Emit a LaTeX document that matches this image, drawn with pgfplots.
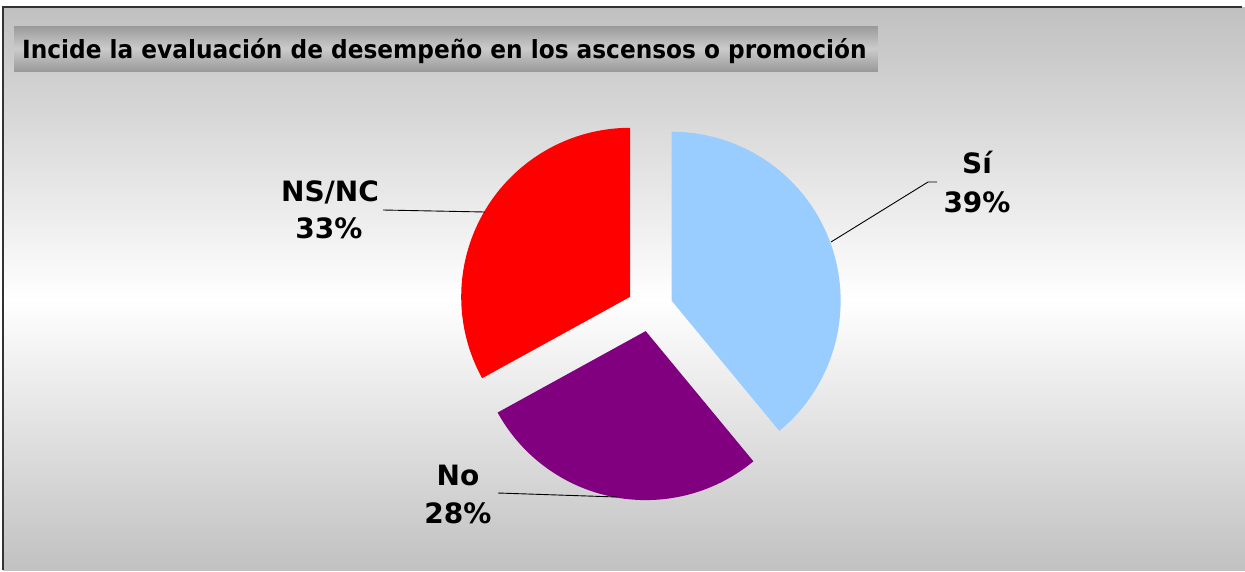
\documentclass[border=0pt]{standalone}
\usepackage{fontspec}
\setmainfont{DejaVu Sans}
\newfontfamily\titlefont{DejaVu Sans}[FakeStretch=0.93]
\usepackage{pgfplots}
\pgfplotsset{compat=1.18}
\definecolor{csi}{HTML}{99CCFF}
\definecolor{cno}{HTML}{800080}
\definecolor{cns}{HTML}{FF0000}
\definecolor{bggray}{HTML}{C0C0C0}
\definecolor{tdark}{HTML}{999999}
\definecolor{tlight}{HTML}{CBCBCB}
% data (percent)
\def\vSi{39}\def\vNo{28}\def\vNS{33}
\def\R{169}\def\D{23}\def\CX{650}\def\CY{308.5}
\pgfmathsetmacro\aA{0}
\pgfmathsetmacro\aB{360*\vSi/100}
\pgfmathsetmacro\aC{\aB+360*\vNo/100}
\pgfmathsetmacro\aD{\aC+360*\vNS/100}
\pgfmathsetmacro\mA{(\aA+\aB)/2}
\pgfmathsetmacro\mB{(\aB+\aC)/2}
\pgfmathsetmacro\mC{(\aC+\aD)/2}
\pgfmathsetmacro\vxA{\CX+\D*sin(\mA)}\pgfmathsetmacro\vyA{\CY-\D*cos(\mA)}
\pgfmathsetmacro\vxB{\CX+\D*sin(\mB)}\pgfmathsetmacro\vyB{\CY-\D*cos(\mB)}
\pgfmathsetmacro\vxC{\CX+\D*sin(\mC)}\pgfmathsetmacro\vyC{\CY-\D*cos(\mC)}
\begin{document}
\begin{tikzpicture}[x=1pt,y=1pt]
% background (pixel coords: X, 570-Y)
\fill[white] (0,0) rectangle (1245,570);
\foreach \i in {0,...,281} {
  \pgfmathsetmacro\yc{8+2*\i}
  \pgfmathsetmacro\pp{max(0,100*(1-abs(\yc-300)/(\yc<300 ? 293 : 275)))}
  \fill[white!\pp!bggray] (3,{570-\yc+1.3}) rectangle (1245,{570-\yc-1.3});
}
\draw[line width=2pt, black!80] (3,0) -- (3,563) -- (1242,563);
% title box
\foreach \i in {0,...,45} {
  \pgfmathsetmacro\yc{26.5+\i}
  \pgfmathsetmacro\pp{max(0,100*(1-abs(\yc-49)/23))}
  \fill[tlight!\pp!tdark] (14,{570-\yc+0.7}) rectangle (878,{570-\yc-0.7});
}
\begin{axis}[
  at={(0,0)}, anchor=south west,
  scale only axis, width=1245pt, height=570pt,
  xmin=0, xmax=1245, ymin=0, ymax=570, y dir=reverse,
  hide axis, clip=false,
]
\node[anchor=base west, inner sep=0pt, font=\titlefont\bfseries\fontsize{25}{30}\selectfont]
  at (axis cs:22,58) {Incide la evaluación de desempeño en los ascensos o promoción};
% slices
\addplot[fill=csi, draw=none, domain=\aA:\aB, samples=90]
  ({\vxA+\R*sin(x)},{\vyA-\R*cos(x)}) -- (axis cs:\vxA,\vyA) -- cycle;
\addplot[fill=cno, draw=none, domain=\aB:\aC, samples=90]
  ({\vxB+\R*sin(x)},{\vyB-\R*cos(x)}) -- (axis cs:\vxB,\vyB) -- cycle;
\addplot[fill=cns, draw=none, domain=\aC:\aD, samples=90]
  ({\vxC+\R*sin(x)},{\vyC-\R*cos(x)}) -- (axis cs:\vxC,\vyC) -- cycle;
% leader lines
\addplot[black, line width=0.9pt, mark=none] coordinates {(831,242) (928,182) (937,182)};
\addplot[black, line width=0.9pt, mark=none] coordinates {(383,210) (485,212)};
\addplot[black, line width=0.9pt, mark=none] coordinates {(498,493) (617,497)};
% labels
\tikzset{lbl/.style={anchor=base, inner sep=0pt, font=\bfseries\fontsize{28}{33}\selectfont}}
\node[lbl] at (axis cs:977,173) {Sí};
\node[lbl] at (axis cs:977,212) {39\%};
\node[lbl] at (axis cs:330,201) {NS/NC};
\node[lbl] at (axis cs:329,238) {33\%};
\node[lbl] at (axis cs:458,485) {No};
\node[lbl] at (axis cs:458,523) {28\%};
\end{axis}
\end{tikzpicture}
\end{document}
